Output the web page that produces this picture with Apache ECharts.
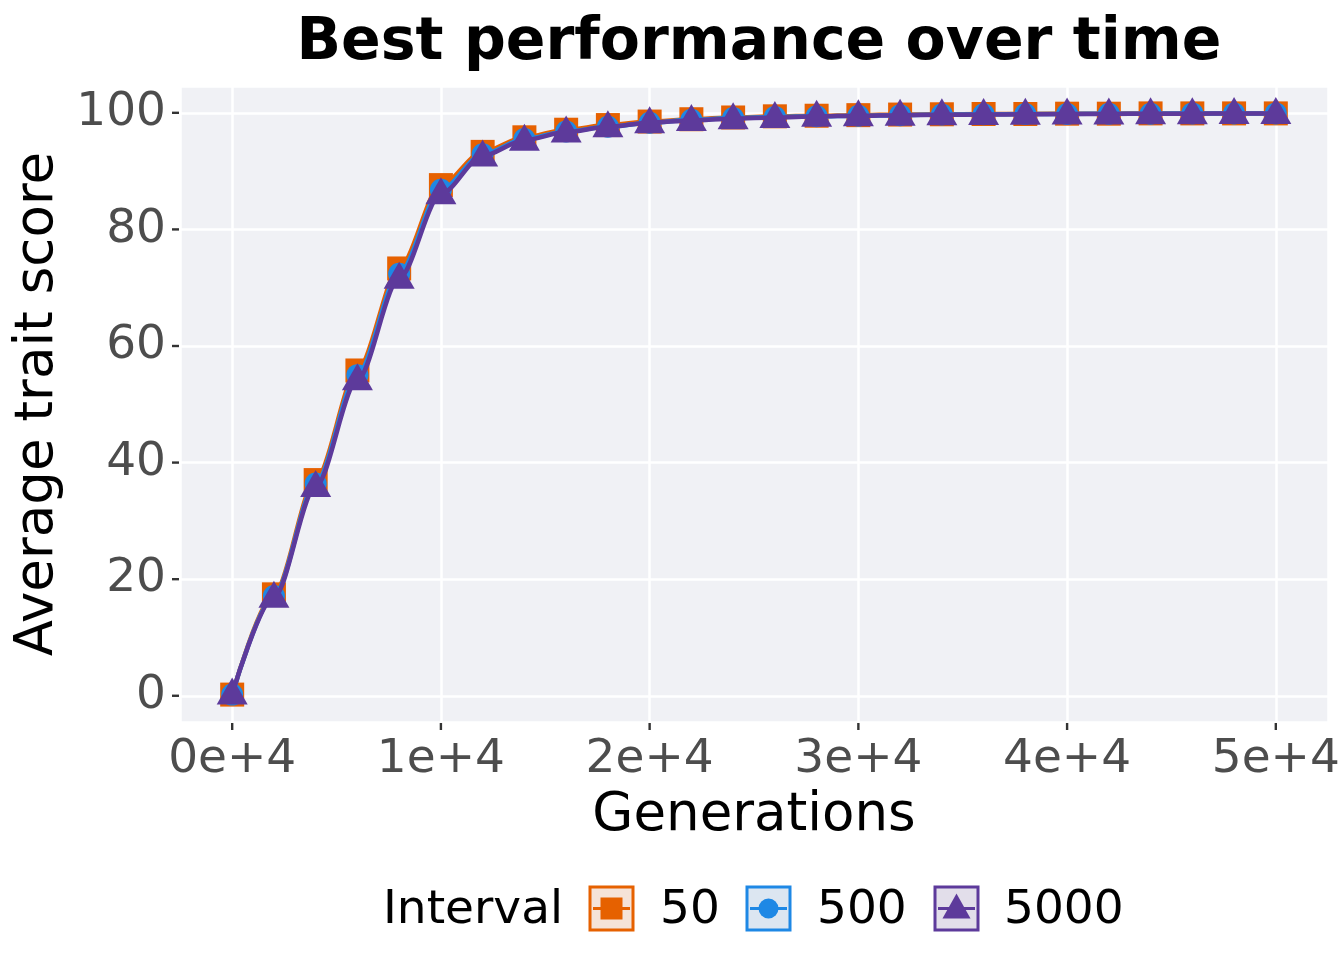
<!DOCTYPE html>
<html>
<head>
<meta charset="utf-8">
<script src="https://cdn.jsdelivr.net/npm/echarts@6/dist/echarts.min.js"></script>
<style>html,body{margin:0;padding:0;background:#fff;}#c{width:1344px;height:960px;}</style>
</head>
<body>
<div id="c"></div>
<script>
const generations = [0,2000,4000,6000,8000,10000,12000,14000,16000,18000,20000,22000,24000,26000,28000,30000,32000,34000,36000,38000,40000,42000,44000,46000,48000,50000];
const interval50   = [0.2,17.4,37.0,55.8,73.3,87.6,93.3,95.8,97.1,97.9,98.5,98.9,99.2,99.4,99.5,99.6,99.7,99.75,99.8,99.8,99.85,99.85,99.9,99.9,99.9,99.9];
const interval500  = [0.2,17.1,36.4,55.0,72.4,86.8,92.9,95.5,96.8,97.6,98.3,98.8,99.1,99.3,99.4,99.5,99.6,99.7,99.75,99.8,99.8,99.85,99.85,99.9,99.9,99.9];
const interval5000 = [0.3,16.9,35.9,54.2,71.6,86.1,92.6,95.3,96.7,97.6,98.3,98.7,99.0,99.2,99.4,99.5,99.6,99.65,99.7,99.75,99.8,99.8,99.85,99.85,99.9,99.9];
const seriesNames = ['50','500','5000'];
const xTicks = [0,10000,20000,30000,40000,50000];
const xTickLabels = ['0e+4','1e+4','2e+4','3e+4','4e+4','5e+4'];
const yTicks = [0,20,40,60,80,100];

const colors = ['#E66100','#1E88E5','#5D3A9B'];
const boxFills = ['#F5E3D8','#DCE6F1','#E2DEEA'];
const symbols = ['rect','circle','triangle'];
const symbolSizes = [[24,24],[22,22],[31,27]];
const values = [interval50, interval500, interval5000];
const FONT = 'DejaVu Sans';
const GRID = {left: 180, right: 16, top: 86, bottom: 238};
const W = 1344, H = 960;

const chart = echarts.init(document.getElementById('c'), null, {renderer:'canvas'});

const series = seriesNames.map((n,i)=>({
  name: n,
  type: 'line',
  data: generations.map((g,j)=>[g, values[i][j]]),
  symbol: symbols[i],
  symbolSize: symbolSizes[i],
  symbolOffset: symbols[i]==='triangle' ? [0,-3] : [0,0],
  showSymbol: true,
  smooth: 0.3,
  smoothMonotone: 'x',
  lineStyle: {color: colors[i], width: 4.5},
  itemStyle: {color: colors[i]},
  z: 2 + i,
  animation: false
}));

const legendGraphics = [];
legendGraphics.push({type:'text', left: 383, top: 887, style:{text:'Interval', font:'47px "'+FONT+'"', fill:'#000'}});
const boxX = [590, 747, 935];
const labX = [660, 817, 1004];
seriesNames.forEach((n,i)=>{
  legendGraphics.push({type:'rect', shape:{x:boxX[i], y:887, width:43, height:43}, style:{fill:boxFills[i], stroke:colors[i], lineWidth:3}});
  legendGraphics.push({type:'line', shape:{x1:boxX[i]+3, y1:908.5, x2:boxX[i]+40, y2:908.5}, style:{stroke:colors[i], lineWidth:3}});
  const cx = boxX[i]+21.5, cy = 908.5;
  if (symbols[i]==='rect') legendGraphics.push({type:'rect', shape:{x:cx-11,y:cy-11,width:22,height:22}, style:{fill:colors[i]}});
  else if (symbols[i]==='circle') legendGraphics.push({type:'circle', shape:{cx:cx,cy:cy,r:10}, style:{fill:colors[i]}});
  else legendGraphics.push({type:'polygon', shape:{points:[[cx,cy-15],[cx+14,cy+10],[cx-14,cy+10]]}, style:{fill:colors[i]}});
  legendGraphics.push({type:'text', left: labX[i], top: 887, style:{text:n, font:'47px "'+FONT+'"', fill:'#000'}});
});

chart.setOption({
  backgroundColor: '#ffffff',
  animation: false,
  textStyle: {fontFamily: FONT},
  title: {
    text: 'Best performance over time',
    left: 754, top: 9, textAlign: 'center',
    textStyle: {fontFamily: FONT, fontSize: 58.5, fontWeight: 'bold', color: '#000'}
  },
  grid: Object.assign({show: true, backgroundColor: '#F0F1F5', borderWidth: 0}, GRID),
  xAxis: {
    type: 'value', min: -2500, max: 52500, position: 'bottom',
    name: 'Generations', nameLocation: 'middle', nameGap: 68,
    nameTextStyle: {fontFamily: FONT, fontSize: 53, color: '#000'},
    axisLine: {show: false, onZero: false},
    axisTick: {show: false},
    axisLabel: {fontFamily: FONT, fontSize: 47, color: '#4D4D4D', margin: 14, customValues: xTicks,
      formatter: v => { const k = xTicks.indexOf(v); return k >= 0 ? xTickLabels[k] : ''; }},
    splitLine: {show: true, lineStyle: {color: '#fff', width: 2.5}}
  },
  yAxis: {
    type: 'value', min: -4.5, max: 104.6, position: 'left',
    name: 'Average trait score', nameLocation: 'middle', nameGap: 115, nameRotate: 90,
    nameTextStyle: {fontFamily: FONT, fontSize: 53, color: '#000'},
    axisLine: {show: false, onZero: false},
    axisTick: {show: false},
    axisLabel: {fontFamily: FONT, fontSize: 47, color: '#4D4D4D', margin: 14, customValues: yTicks},
    splitLine: {show: true, lineStyle: {color: '#fff', width: 2.5}}
  },
  legend: {show: false},
  graphic: legendGraphics,
  series: series
});

// outward tick marks placed through the axes' own scales
const tickGraphics = [];
const panelBottom = H - GRID.bottom, panelLeft = GRID.left;
xTicks.forEach(v => {
  const px = chart.convertToPixel({xAxisIndex: 0}, v);
  tickGraphics.push({type:'rect', silent:true, z: 100, shape:{x:px-1.2, y:panelBottom+1, width:2.4, height:7}, style:{fill:'#333333'}});
});
yTicks.forEach(v => {
  const py = chart.convertToPixel({yAxisIndex: 0}, v);
  tickGraphics.push({type:'rect', silent:true, z: 100, shape:{x:panelLeft-8, y:py-1.2, width:7, height:2.4}, style:{fill:'#333333'}});
});
chart.setOption({graphic: {elements: legendGraphics.concat(tickGraphics)}});
</script>
</body>
</html>
